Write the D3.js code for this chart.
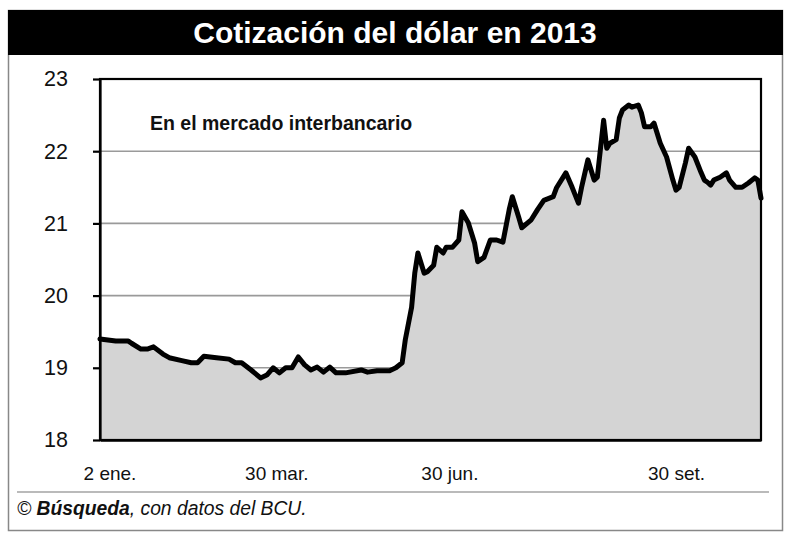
<!DOCTYPE html>
<html>
<head>
<meta charset="utf-8">
<script src="https://cdn.jsdelivr.net/npm/d3@7"></script>
<style>
body { margin:0; background:#fff; }
text { font-family: "Liberation Sans", Arial, sans-serif; }
</style>
</head>
<body>
<div id="chart"></div>
<script>
//Data: trading day index (from 2 ene.) and closing rate
var dias = [0,5,9,10,13,15,17,20,22,26,
  29,31,33,37,41,43,45,48,51,53,
  55,57,59,61,63,65,67,69,71,73,
  75,78,83,85,88,92,94,96,97,99,
  100,101,103,104,106,107,109,110,112,114,
  115,117,119,120,122,124,126,128,130,131,
  133,134,137,139,141,144,145,148,150,152,
  153,155,157,158,160,161,162,164,165,166,
  168,169,171,172,173,175,176,178,180,182,
  183,184,186,187,189,191,192,193,194,195,
  197,199,200,202,204,206,208,209,210];
var cotizacion = [19.40,19.37,19.37,19.34,19.26,19.26,19.29,19.19,19.14,19.10,
  19.07,19.07,19.16,19.14,19.12,19.07,19.07,18.97,18.86,18.90,
  19.00,18.93,19.00,19.00,19.15,19.04,18.97,19.01,18.94,19.01,
  18.93,18.93,18.97,18.94,18.96,18.96,19.00,19.07,19.39,19.84,
  20.31,20.59,20.31,20.33,20.42,20.67,20.59,20.67,20.67,20.77,
  21.16,21.01,20.73,20.47,20.53,20.77,20.77,20.74,21.19,21.37,
  21.09,20.94,21.05,21.19,21.32,21.37,21.49,21.70,21.50,21.28,
  21.50,21.88,21.60,21.64,22.43,22.04,22.11,22.16,22.46,22.57,
  22.64,22.61,22.64,22.53,22.34,22.34,22.39,22.11,21.92,21.60,
  21.46,21.50,21.84,22.04,21.92,21.70,21.60,21.57,21.53,21.60,
  21.64,21.70,21.60,21.50,21.50,21.56,21.63,21.60,21.35];
var ticksY = [18,19,20,21,22,23];
var etiquetasX = ["2 ene.","30 mar.","30 jun.","30 set."];
var diasX = [3,56,111,183];

var W = 790, H = 539;
var margin = {top: 79, right: 29, bottom: 99, left: 100},
    width = W - margin.left - margin.right,
    height = H - margin.top - margin.bottom;

var data = dias.map(function(d,i){ return {dia:d, valor:cotizacion[i]}; });

//Scales
var x = d3.scaleLinear().domain([0,210]).range([0,width]);
var y = d3.scaleLinear().domain([18,23]).range([height,0]);

var svg = d3.select("#chart").append("svg")
  .attr("width", W)
  .attr("height", H);

//Outer frame and title bar
svg.append("rect")
  .attr("x", 8.5).attr("y", 10.5)
  .attr("width", 774).attr("height", 520)
  .style("fill","none").style("stroke","#888").style("stroke-width",1.5);
svg.append("rect")
  .attr("x", 8).attr("y", 10)
  .attr("width", 775).attr("height", 45)
  .style("fill","#000");
svg.append("text")
  .attr("x", 395).attr("y", 43)
  .style("text-anchor","middle")
  .style("font-size","30px")
  .style("font-weight","bold")
  .style("fill","#fff")
  .text("Cotización del dólar en 2013");

var g = svg.append("g")
  .attr("transform", "translate(" + margin.left + "," + margin.top + ")");

//Gridlines
g.selectAll("line.grid")
  .data(ticksY.filter(function(t){ return t > 18 && t < 23; }))
  .enter().append("line")
  .attr("class","grid")
  .attr("x1",0).attr("x2",width)
  .attr("y1",function(d){ return y(d); })
  .attr("y2",function(d){ return y(d); })
  .style("stroke","#9a9a9a").style("stroke-width",1.6);

//Area
var area = d3.area()
  .x(function(d){ return x(d.dia); })
  .y0(y(18))
  .y1(function(d){ return y(d.valor); });
g.append("path")
  .datum(data)
  .attr("d", area)
  .style("fill","#d4d4d4");

//Plot frame
g.append("rect")
  .attr("x",0).attr("y",0)
  .attr("width",width).attr("height",height)
  .style("fill","none").style("stroke","#000").style("stroke-width",2.2);

//Line
var line = d3.line()
  .x(function(d){ return x(d.dia); })
  .y(function(d){ return y(d.valor); });
g.append("path")
  .datum(data)
  .attr("d", line)
  .style("fill","none")
  .style("stroke","#000")
  .style("stroke-width",5)
  .style("stroke-linejoin","round")
  .style("stroke-linecap","round");

//Y axis
var yAxis = g.append("g")
  .call(d3.axisLeft(y)
    .tickValues(ticksY)
    .tickSize(7)
    .tickSizeOuter(0)
    .tickPadding(25)
    .tickFormat(d3.format("d")));
yAxis.select(".domain").style("stroke","#000").style("stroke-width",2.2);
yAxis.selectAll("line").style("stroke","#000").style("stroke-width",2.2);
yAxis.selectAll("text")
  .style("font-size","21.5px")
  .style("fill","#111")
  .style("font-family","'Liberation Sans', Arial, sans-serif");

//X axis labels
var xAxis = g.append("g")
  .attr("transform","translate(0," + height + ")")
  .call(d3.axisBottom(x)
    .tickValues(diasX)
    .tickSize(0)
    .tickSizeOuter(0)
    .tickPadding(27)
    .tickFormat(function(d,i){ return etiquetasX[i]; }));
xAxis.select(".domain").style("stroke","#000").style("stroke-width",2.6);
xAxis.selectAll("text")
  .style("font-size","19px")
  .style("fill","#111")
  .style("font-family","'Liberation Sans', Arial, sans-serif");

//Annotation
g.append("text")
  .attr("x", 50).attr("y", 51)
  .style("font-size","19.5px")
  .style("font-weight","bold")
  .style("fill","#111")
  .text("En el mercado interbancario");

//Footer
svg.append("line")
  .attr("x1",17).attr("x2",769)
  .attr("y1",492).attr("y2",492)
  .style("stroke","#777").style("stroke-width",1.2);
var foot = svg.append("text")
  .attr("x",17).attr("y",515)
  .style("font-size","19.3px")
  .style("font-style","italic")
  .style("fill","#111");
foot.append("tspan").text("© ");
foot.append("tspan").style("font-weight","bold").text("Búsqueda");
foot.append("tspan").text(", con datos del BCU.");
</script>
</body>
</html>
